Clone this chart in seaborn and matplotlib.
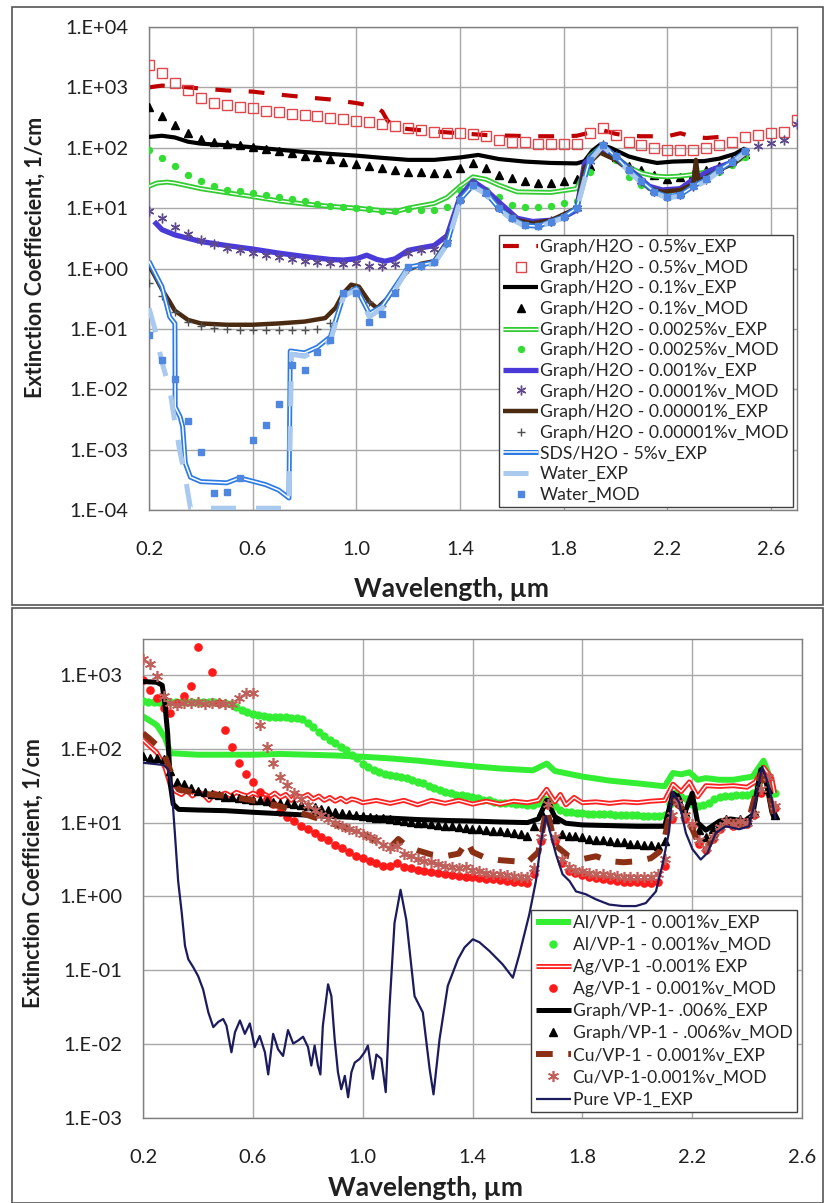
import numpy as np
import matplotlib
matplotlib.use("Agg")
import matplotlib.pyplot as plt
import matplotlib.patheffects as pe
from matplotlib.patches import Rectangle
from matplotlib.ticker import FixedLocator, FuncFormatter, NullLocator
import seaborn as sns

# ---------------------------------------------------------------- upper panel: graphite / water suspensions
wl_05 = np.arange(0.20, 2.701, 0.05)     # model grid 0.20 .. 2.70
wl_25 = np.arange(0.20, 2.501, 0.05)     # model grid 0.20 .. 2.50

g05_exp_x = [0.20, 0.25, 0.30, 0.40, 0.50, 0.60, 0.70, 0.80, 0.90, 1.00, 1.05, 1.08, 1.10, 1.12, 1.15, 1.20,
             1.30, 1.40, 1.50, 1.60, 1.70, 1.80, 1.85, 1.90, 1.95, 2.00, 2.05, 2.10, 2.20, 2.25, 2.30, 2.35,
             2.40, 2.46]
g05_exp_y = [1000, 1070, 1050, 955, 890, 850, 760, 690, 630, 550, 500, 457, 398, 282, 219, 204,
             186, 174, 162, 158, 155, 155, 158, 178, 195, 170, 158, 155, 155, 174, 151, 145,
             151, 158]
g05_mod_y = [2340, 1700, 1175, 890, 676, 550, 513, 479, 447, 407, 389, 363, 347, 331, 309, 295, 275, 263, 245,
             229, 209, 200, 182, 178, 174, 170, 158, 135, 126, 123, 117, 117, 115, 115, 178, 209, 162, 126,
             110, 98, 91, 91, 93, 98, 110, 126, 151, 162, 174, 182, 288]

g01_exp_x = [0.20, 0.25, 0.30, 0.35, 0.40, 0.50, 0.60, 0.70, 0.80, 0.90, 1.00, 1.10, 1.20, 1.30, 1.40, 1.47,
             1.55, 1.65, 1.75, 1.85, 1.88, 1.91, 1.94, 1.98, 2.05, 2.10, 2.16, 2.22, 2.28, 2.34, 2.40, 2.46, 2.50]
g01_exp_y = [151, 158, 148, 126, 117, 110, 102, 93, 85, 79, 74, 68, 63, 63, 69, 76,
             65, 59, 56, 55, 60, 89, 112, 100, 72, 63, 56, 59, 60, 60, 66, 79, 98]
g01_mod_y = [468, 339, 234, 174, 141, 126, 115, 110, 102, 95, 89, 83, 74, 71, 65, 58, 54, 49, 46, 43,
             40, 40, 38, 38, 46, 56, 46, 35, 32, 28, 26, 26, 28, 30, 50, 100, 71, 50, 43, 35,
             30, 33, 37, 42, 50, 63, 79]

g0025_exp_x = [0.20, 0.23, 0.27, 0.30, 0.40, 0.50, 0.60, 0.70, 0.80, 0.90, 1.00, 1.10, 1.15, 1.20, 1.30,
               1.35, 1.40, 1.45, 1.50, 1.55, 1.62, 1.75, 1.85, 1.87, 1.90, 1.94, 2.00, 2.05, 2.10, 2.15,
               2.20, 2.25, 2.30, 2.35, 2.40, 2.45, 2.50]
g0025_exp_y = [23, 26, 27, 26, 21, 18, 15.5, 13.2, 11.7, 10.7, 10, 9.1, 8.7, 10, 12,
               15, 23, 33, 30, 24, 18.6, 18.2, 21, 32, 71, 100, 71, 48, 38, 34,
               33, 34, 36, 40, 47, 56, 71]
g0025_mod_y = [91, 68, 49, 35, 28, 23, 20, 19, 17.8, 16.6, 15.5, 14.1, 12.9, 11.7, 11, 10.5, 10, 9.5, 9.1,
               9.1, 9.5, 9.3, 9.3, 10.5, 20, 28, 20, 15.5, 11.2, 10.5, 10.5, 11, 12, 13.2, 40, 100, 63,
               33, 24, 20, 18.6, 21, 26, 30, 40, 52, 71]

g001_exp_x = [0.22, 0.25, 0.30, 0.40, 0.50, 0.60, 0.70, 0.80, 0.90, 0.95, 1.00, 1.04, 1.08, 1.11, 1.15,
              1.20, 1.25, 1.30, 1.35, 1.40, 1.45, 1.50, 1.55, 1.62, 1.68, 1.75, 1.80, 1.85, 1.88, 1.94,
              2.00, 2.05, 2.13, 2.18, 2.25, 2.30, 2.37, 2.46, 2.50]
g001_exp_y = [6.0, 4.4, 3.6, 2.8, 2.4, 2.1, 1.8, 1.58, 1.41, 1.38, 1.45, 1.66, 1.41, 1.32, 1.45,
              2.0, 2.2, 2.4, 3.5, 15.5, 28, 20, 12.6, 6.8, 6.0, 6.3, 7.1, 9.3, 55, 98,
              71, 46, 23, 20, 21, 30, 43, 60, 87]
g0001_mod_y = [9.1, 6.8, 4.8, 3.7, 3.0, 2.5, 2.2, 2.0, 1.8, 1.66, 1.55, 1.45, 1.35, 1.29, 1.23, 1.17, 1.23,
               1.12, 1.12, 1.2, 1.8, 2.0, 2.1, 3.2, 14, 25, 18, 10.5, 7.1, 5.6, 5.4, 6.2, 7.4, 10, 60,
               110, 72, 44, 28, 19, 15.8, 17, 23, 30, 43, 59, 85, 105, 120, 135, 251]

g00001_exp_x = [0.20, 0.22, 0.25, 0.28, 0.30, 0.35, 0.40, 0.50, 0.60, 0.70, 0.80, 0.88, 0.92, 0.95, 0.98,
                1.01, 1.05, 1.08, 1.12, 1.15, 1.20, 1.25, 1.30, 1.35, 1.40, 1.45, 1.50, 1.55, 1.62, 1.68,
                1.75, 1.80, 1.85, 1.88, 1.94, 2.00, 2.05, 2.13, 2.18, 2.25, 2.30, 2.31, 2.32, 2.40, 2.46, 2.50]
g00001_exp_y = [1.12, 0.79, 0.45, 0.28, 0.20, 0.141, 0.123, 0.117, 0.117, 0.123, 0.132, 0.151, 0.224, 0.39,
                0.54, 0.50, 0.28, 0.22, 0.32, 0.50, 0.95, 1.2, 1.32, 2.8, 14, 24, 18, 10, 6.3, 5.6,
                6.3, 7.9, 10, 47, 83, 63, 43, 21, 18.6, 20, 25, 63, 28, 43, 56, 79]
g00001_mod_y = [0.58, 0.35, 0.19, 0.132, 0.112, 0.105, 0.100, 0.095, 0.095, 0.095, 0.095, 0.095, 0.095,
                0.100, 0.126, 0.35, 0.50, 0.28, 0.24, 0.45, 1.0, 1.12, 1.26, 2.6, 13.8, 24, 17.8, 10,
                6.8, 5.2, 5.0, 6.0, 7.2, 10, 63, 112, 72, 43, 28, 18.6, 15.5, 16.6, 23, 30, 43, 59, 87]

sds_exp_x = [0.20, 0.22, 0.25, 0.28, 0.30, 0.301, 0.32, 0.33, 0.34, 0.36, 0.40, 0.50, 0.55, 0.60, 0.65,
             0.70, 0.74, 0.745, 0.80, 0.85, 0.90, 0.95, 1.00, 1.05, 1.10, 1.15, 1.20, 1.30, 1.35, 1.40,
             1.45, 1.50, 1.55, 1.60, 1.65, 1.70, 1.75, 1.80, 1.85, 1.90, 1.95, 2.00, 2.05, 2.10, 2.15,
             2.20, 2.25, 2.30, 2.35, 2.40, 2.45, 2.50]
sds_exp_y = [1.32, 0.89, 0.50, 0.158, 0.123, 0.0051, 0.0035, 0.0024, 0.0006, 0.00035, 0.000295, 0.000282,
             0.00034, 0.0003, 0.000263, 0.000214, 0.000158, 0.043, 0.040, 0.050, 0.074, 0.35, 0.47, 0.178,
             0.24, 0.50, 1.05, 1.26, 2.6, 13.8, 24, 17.8, 10, 6.8, 5.2, 5.0, 6.0, 7.2, 10, 63, 112, 72,
             43, 28, 18.6, 15.5, 16.6, 23, 30, 43, 59, 87]

water_exp_x = [0.20, 0.22, 0.25, 0.28, 0.30, 0.32, 0.34, 0.36, 0.50, 0.60, 0.74, 0.75, 0.80, 0.85, 0.90,
               0.95, 1.00, 1.05, 1.10, 1.15, 1.20, 1.30, 1.35, 1.40, 1.45, 1.50, 1.55, 1.60, 1.65, 1.70,
               1.75, 1.80, 1.85, 1.90, 1.95, 2.00, 2.05, 2.10, 2.15, 2.20, 2.25, 2.30, 2.35, 2.40, 2.45, 2.50]
water_exp_y = [0.22, 0.11, 0.028, 0.010, 0.0028, 0.00089, 0.00035, 0.000107, 0.000107, 0.000107, 0.000107,
               0.038, 0.035, 0.045, 0.063, 0.35, 0.44, 0.158, 0.22, 0.45, 1.0, 1.2, 2.5, 13.2, 23, 17,
               9.5, 6.5, 5.0, 4.8, 5.8, 6.9, 9.5, 60, 107, 69, 41, 26, 17.8, 14.8, 15.8, 22, 28, 41, 56, 83]
water_mod_y = [0.079, 0.031, 0.015, 0.0030, 0.00093, 0.00019, 0.0002, 0.00034, 0.00145, 0.0026, 0.0058,
               0.025, 0.021, 0.042, 0.066, 0.39, 0.39, 0.132, 0.178, 0.40, 1.07, 1.12, 1.26, 2.6, 13.8,
               24, 17.8, 10, 6.8, 5.2, 5.0, 6.0, 7.2, 10, 63, 112, 72, 43, 28, 18.6, 15.5, 16.6, 23, 30,
               43, 59, 87]

# ---------------------------------------------------------------- lower panel: VP-1 based nanofluids
wl_02 = np.arange(0.20, 2.501, 0.02)     # dense model grids
wl_025 = np.arange(0.20, 2.501, 0.025)

al_exp_x = [0.20, 0.25, 0.28, 0.30, 0.40, 0.50, 0.60, 0.70, 0.80, 0.90, 1.00, 1.10, 1.20, 1.30, 1.40, 1.50,
            1.62, 1.67, 1.70, 1.80, 1.90, 2.00, 2.10, 2.13, 2.16, 2.19, 2.22, 2.25, 2.30, 2.35, 2.42, 2.46,
            2.49, 2.50]
al_exp_y = [275, 209, 141, 87, 83, 83, 83, 85, 83, 81, 78, 74, 69, 63, 58, 54,
            51, 63, 50, 42, 37, 34, 31, 47, 45, 48, 38, 40, 38, 38, 42, 69, 35, 22]
al_mod_y = [447, 436, 436, 427, 436, 436, 427, 436, 436, 427, 427, 436, 427, 427, 417, 417,
            398, 363, 339, 316, 295, 282, 275, 269, 269, 269, 269, 263, 263, 251,
            224, 195, 170, 148, 132, 120, 107, 95, 83, 74,
            63, 56, 51, 48, 46, 44, 43, 42, 40, 38,
            36, 34, 31, 29, 27.5, 26.3, 25.1, 24, 23.4, 22.9,
            21.9, 21.4, 20.4, 20, 19.1, 18.6, 18.2, 18.2, 17.8, 17.8,
            17.4, 17.4, 18.6, 20.9, 20, 16.6, 14.8, 14.1, 13.8, 13.5,
            13.5, 13.2, 13.2, 13.2, 12.9, 12.9, 12.6, 12.6, 12.6, 12.6,
            12.6, 12.3, 12.3, 12.3, 12.3, 12.6, 17.8, 25.1, 22.4, 20.9,
            17.8, 16.6, 17.4, 18.6, 20.9, 22.4, 22.9, 22.9, 23.4, 24,
            24, 25.1, 31.6, 52.5, 39.8, 25.1]

ag_exp_x = [0.20, 0.22, 0.25, 0.28, 0.30,
            0.32, 0.34, 0.36, 0.38, 0.40, 0.42, 0.44, 0.46, 0.48, 0.50,
            0.52, 0.54, 0.56, 0.58, 0.60, 0.62, 0.64, 0.66, 0.68, 0.70,
            0.72, 0.74, 0.76, 0.78, 0.80, 0.82, 0.84, 0.86, 0.88, 0.90,
            0.92, 0.94, 0.96, 0.98, 1.00,
            1.05, 1.10, 1.15, 1.20, 1.25, 1.30, 1.35, 1.40, 1.45, 1.50, 1.55, 1.60,
            1.64, 1.67, 1.70, 1.72, 1.74, 1.77, 1.80,
            1.85, 1.90, 1.95, 2.00, 2.05, 2.10,
            2.13, 2.16, 2.19, 2.22, 2.25,
            2.30, 2.35, 2.40, 2.43, 2.46, 2.49, 2.50]
ag_exp_y = [132, 112, 89, 56, 32,
            26.3, 24, 27.5, 22.9, 26.3, 24, 20, 25.1, 23.4, 25.1,
            22.9, 25.7, 24, 22.9, 25.1, 23.4, 24.5, 22.4, 25.1, 21.9,
            24, 20, 23.4, 21.9, 24, 20.9, 22.9, 20, 21.9, 19.5,
            21.4, 19.1, 20.9, 20, 18.6,
            20, 18.2, 20, 17.4, 20, 18.2, 20, 17.8, 19.5, 17.8, 19.5, 18.6,
            20, 28.2, 19.1, 24, 17.4, 21.9, 18.6,
            19.1, 18.2, 19.1, 18.6, 19.5, 20,
            33.1, 26.3, 35.5, 22.4, 31.6,
            30.9, 31.6, 30.2, 35.5, 56.2, 39.8, 25.1]
ag_mod_y = [851, 631, 479, 355, 302, 417, 525, 708, 2400, 3981, 1096, 417,
            182, 107, 65, 45, 35, 26, 21, 17.8, 14.1, 12, 10.5, 9.1, 8.1, 7.2, 6.3, 5.8, 5.0, 4.6, 4.0, 3.5,
            3.3, 3.0, 2.8, 2.6, 2.6, 2.8, 2.5, 2.4, 2.3, 2.24, 2.14, 2.09, 2.0, 1.95, 1.9, 1.86, 1.82, 1.78,
            1.74, 1.70,
            1.66, 1.62, 1.58, 1.55, 1.51, 2.0, 5.6, 17.4, 5.6, 2.8, 2.24, 2.09, 1.95, 1.86, 1.78, 1.70,
            1.66, 1.62, 1.58, 1.55,
            1.55, 1.51, 1.51, 1.58, 2.6, 11.2, 17.8, 11.2, 8.9, 5.2, 4.2, 6.0, 8.3, 10, 9.1, 10, 9.5,
            12.6, 25, 40,
            15.8]

gr_exp_x = [0.20, 0.25, 0.27, 0.28, 0.29, 0.30, 0.31, 0.33, 0.40, 0.50, 0.60, 0.70, 0.80, 0.90, 1.00,
            1.10, 1.20, 1.30, 1.40, 1.50, 1.60, 1.64, 1.67, 1.70, 1.74, 1.80, 1.90, 2.00, 2.10, 2.13,
            2.15, 2.17, 2.20, 2.22, 2.25, 2.30, 2.34, 2.39, 2.42, 2.45, 2.47, 2.49, 2.50]
gr_exp_y = [813, 794, 724, 398, 158, 32, 17.8, 15.1, 14.8, 14.5, 13.8, 13.2, 12.6, 12, 11.7,
            11.5, 11, 10.7, 10.5, 10.2, 10, 11.2, 20, 12, 9.8, 9.3, 9.1, 8.9, 8.9, 25,
            22, 12.6, 25, 10, 7.9, 10.5, 11.2, 10.5, 12.6, 52, 35, 14, 11.2]
gr_mod_y = [79, 76, 74, 72, 50, 36, 33, 29.5, 26.9, 25.7, 24.5, 23.4,
            22.4, 21.9, 21.4, 20.9, 20.4, 20, 19.5, 19.1, 18.6, 18.2, 17.8, 17.4, 16.6, 16.2, 15.5, 14.8,
            14.1, 13.5, 12.9, 12.6,
            12.3, 12, 11.7, 11.5, 11.2, 11, 10.5, 10.2, 10, 9.8, 9.5, 9.3, 9.1, 8.9, 8.7, 8.5, 8.3, 8.1,
            7.9, 7.8,
            7.6, 7.4, 7.2, 6.9, 6.6, 8.9, 14.1, 19.1, 11.2, 6.9, 6.6, 6.5, 6.3, 6.0, 5.9, 5.8, 5.6, 5.5,
            5.4, 5.2,
            5.1, 5.0, 4.9, 4.8, 5.6, 20, 22.4, 14.1, 20, 7.9, 6.3, 8.3, 10, 11.2, 10.5, 11.2, 11, 14.1,
            44.7, 28.2,
            12.6]

cu_exp_x = [0.20, 0.22, 0.25, 0.28, 0.30, 0.33, 0.40, 0.50, 0.60, 0.70, 0.80, 0.90, 1.00, 1.05, 1.10,
            1.13, 1.16, 1.20, 1.25, 1.30, 1.35, 1.38, 1.40, 1.45, 1.50, 1.55, 1.60, 1.64, 1.67, 1.70,
            1.75, 1.80, 1.85, 1.90, 1.95, 2.00, 2.05, 2.08, 2.10, 2.13, 2.16, 2.19, 2.22, 2.25, 2.30,
            2.35, 2.40, 2.45, 2.48, 2.50]
cu_exp_y = [162, 141, 112, 79, 50, 28, 25, 23, 20, 16.6, 12.6, 9.5, 7.1, 5.6, 4.6,
            6.0, 4.8, 4.2, 3.7, 3.5, 3.8, 5.6, 4.0, 3.3, 3.1, 3.0, 2.9, 4.0, 15.8, 5.0,
            3.5, 3.2, 3.5, 3.0, 2.9, 3.0, 3.3, 4.0, 6.3, 20, 15.8, 10, 5.6, 4.5, 7.9,
            10, 8.9, 45, 25, 11.2]
cu_mod_y = [1660, 1413, 955, 525, 417, 389, 417, 417, 427, 407, 417, 417,
            407, 398, 479, 575, 562, 209, 107, 65, 42, 32, 25, 21, 17.4, 14.8, 12.6, 11.2, 9.8, 8.9,
            8.1, 7.6,
            6.9, 6.3, 5.8, 5.0, 4.6, 4.8, 3.8, 3.5, 3.2, 3.0, 2.9, 2.75, 2.6, 2.5, 2.4, 2.5, 2.3, 2.2,
            2.1, 2.04,
            2.0, 1.95, 1.9, 1.86, 1.82, 2.4, 6.3, 17.8, 6.3, 3.2, 2.5, 2.3, 2.2, 2.1, 2.04, 2.0, 1.95,
            1.9, 1.86, 1.86,
            1.82, 1.82, 1.82, 2.0, 3.2, 12.6, 19.1, 12.6, 9.5, 5.8, 4.6, 6.3, 8.7, 10.5, 9.5, 10.5, 10,
            13.2, 28.2, 41.7,
            16.6]

vp1_x = [0.200, 0.274, 0.292, 0.304, 0.316, 0.328, 0.341, 0.353, 0.365, 0.383,
         0.401, 0.419, 0.438, 0.456, 0.474, 0.492, 0.504, 0.522, 0.535, 0.553,
         0.571, 0.589, 0.607, 0.625, 0.644, 0.656, 0.674, 0.692, 0.710, 0.728,
         0.747, 0.765, 0.783, 0.801, 0.813, 0.825, 0.837, 0.846, 0.855, 0.874,
         0.886, 0.898, 0.910, 0.922, 0.935, 0.947, 0.959, 0.971, 0.989, 1.007,
         1.019, 1.037, 1.050, 1.068, 1.084, 1.098, 1.116, 1.138, 1.159, 1.189,
         1.219, 1.244, 1.258, 1.280, 1.310, 1.347, 1.371, 1.401, 1.425, 1.462,
         1.510, 1.547, 1.571, 1.607, 1.631, 1.650, 1.667, 1.704, 1.728, 1.753,
         1.777, 1.813, 1.850, 1.898, 1.946, 1.995, 2.031, 2.068, 2.092, 2.116,
         2.128, 2.153, 2.177, 2.201, 2.231, 2.256, 2.286, 2.322, 2.371, 2.407,
         2.431, 2.455, 2.480, 2.504]
vp1_y = [64.6, 60.3, 52.5, 30.9, 7.24, 1.62, 0.603, 0.214, 0.141, 0.110,
         0.0832, 0.0550, 0.0269, 0.0170, 0.0200, 0.0219, 0.0178, 0.00776, 0.0145, 0.0209,
         0.0138, 0.0191, 0.00912, 0.0129, 0.00776, 0.00389, 0.0138, 0.00851, 0.00692, 0.0155,
         0.0102, 0.0112, 0.0126, 0.00912, 0.00513, 0.00955, 0.00513, 0.00389, 0.0178, 0.0646,
         0.0447, 0.0117, 0.00417, 0.00245, 0.00372, 0.00191, 0.00417, 0.00562, 0.00631, 0.00776,
         0.00955, 0.00339, 0.00724, 0.00631, 0.00224, 0.0331, 0.437, 1.23, 0.479, 0.0447,
         0.0269, 0.00457, 0.00209, 0.0117, 0.0617, 0.141, 0.204, 0.263, 0.240, 0.182,
         0.120, 0.0794, 0.166, 0.575, 1.62, 5.62, 12.3, 3.72, 2.0, 1.62,
         1.17, 1.07, 0.912, 0.776, 0.741, 0.741, 0.813, 1.17, 2.69, 7.59,
         26.3, 18.6, 7.24, 4.37, 3.16, 3.89, 7.24, 8.91, 8.13, 8.91,
         20.4, 57.5, 30.9, 11.0]

x_ticks = [0.2, 0.6, 1.0, 1.4, 1.8, 2.2, 2.6]

# ---------------------------------------------------------------- styling
sns.set_style("white")
plt.rcParams["font.family"] = ["Lato", "DejaVu Sans"]
plt.rcParams["axes.unicode_minus"] = False

W, H = 824, 1203
fig = plt.figure(figsize=(W / 100, H / 100), dpi=100)


def fx(px):
    return px / W


def fy(py):
    return 1 - py / H


ax_top = fig.add_axes([fx(149), fy(510), fx(797) - fx(149), fy(27) - fy(510)])
ax_bot = fig.add_axes([fx(143), fy(1118), fx(802) - fx(143), fy(639) - fy(1118)])


def trace(ax, x, y, label, color, lw, ls="-", core=None, z=2):
    kw = dict(color=color, linewidth=lw, linestyle=ls, zorder=z, solid_capstyle="butt",
              dash_capstyle="butt")
    if core:
        kw.update(color="white", linewidth=core,
                  path_effects=[pe.Stroke(linewidth=lw, foreground=color), pe.Normal()])
    sns.lineplot(x=np.asarray(x, float), y=np.asarray(y, float), ax=ax, label=label,
                 estimator=None, sort=False, errorbar=None, legend=False, **kw)


def marks(ax, x, y, label, marker, ms, color, face=None, mew=1.0, z=3):
    sns.lineplot(x=np.asarray(x, float), y=np.asarray(y, float), ax=ax, label=label,
                 estimator=None, sort=False, errorbar=None, legend=False,
                 linestyle="", marker=marker, markersize=ms, color=color,
                 markerfacecolor=color if face is None else face, markeredgecolor=color,
                 markeredgewidth=mew, zorder=z)


star = (6, 2, 0)

for ax in (ax_top, ax_bot):
    ax.set_yscale("log")

# upper panel series
trace(ax_top, g05_exp_x, g05_exp_y, "Graph/H2O - 0.5%v_EXP", "#C00000", 3.0, ls=(0, (3.8, 4.2)), z=2)
marks(ax_top, wl_05, g05_mod_y, "Graph/H2O - 0.5%v_MOD", "s", 7, "#E0474C", face="none", mew=1.0, z=3)
trace(ax_top, g01_exp_x, g01_exp_y, "Graph/H2O - 0.1%v_EXP", "black", 3.0, z=4)
marks(ax_top, wl_25, g01_mod_y, "Graph/H2O - 0.1%v_MOD", "^", 6, "black", z=5)
trace(ax_top, g0025_exp_x, g0025_exp_y, "Graph/H2O - 0.0025%v_EXP", "#33CC33", 3.6, core=1.0, z=6)
marks(ax_top, wl_25, g0025_mod_y, "Graph/H2O - 0.0025%v_MOD", "o", 4.3, "#33DD33", z=7)
trace(ax_top, g001_exp_x, g001_exp_y, "Graph/H2O - 0.001%v_EXP", "#4A3AD8", 3.8, z=8)
marks(ax_top, wl_05, g0001_mod_y, "Graph/H2O - 0.0001%v_MOD", star, 7, "#5E4A8C", mew=1.0, z=9)
trace(ax_top, g00001_exp_x, g00001_exp_y, "Graph/H2O - 0.00001%_EXP", "#4A2A10", 3.2, z=10)
marks(ax_top, wl_25, g00001_mod_y, "Graph/H2O - 0.00001%v_MOD", "+", 6, "#505050", mew=1.0, z=11)
trace(ax_top, sds_exp_x, sds_exp_y, "SDS/H2O - 5%v_EXP", "#2C7BE5", 3.6, core=1.1, z=12)
trace(ax_top, water_exp_x, water_exp_y, "Water_EXP", "#A9C9EE", 3.6, ls=(0, (5, 4)), z=13)
marks(ax_top, wl_25, water_mod_y, "Water_MOD", "s", 5, "#4F86E0", z=14)

# lower panel series
trace(ax_bot, al_exp_x, al_exp_y, "Al/VP-1 - 0.001%v_EXP", "#33EE33", 4.3, z=2)
marks(ax_bot, wl_02, al_mod_y, "Al/VP-1 - 0.001%v_MOD", "o", 5, "#33EE33", z=3)
trace(ax_bot, ag_exp_x, ag_exp_y, "Ag/VP-1 -0.001% EXP", "#FF2020", 3.6, core=1.0, z=4)
marks(ax_bot, wl_025, ag_mod_y, "Ag/VP-1 - 0.001%v_MOD", "o", 5.2, "#FF1A1A", z=5)
trace(ax_bot, gr_exp_x, gr_exp_y, "Graph/VP-1- .006%_EXP", "black", 3.6, z=6)
marks(ax_bot, wl_025, gr_mod_y, "Graph/VP-1 - .006%v_MOD", "^", 5.5, "black", z=7)
trace(ax_bot, cu_exp_x, cu_exp_y, "Cu/VP-1 - 0.001%v_EXP", "#8B3015", 4.3, ls=(0, (2.8, 2.6)), z=8)
marks(ax_bot, wl_025, cu_mod_y, "Cu/VP-1-0.001%v_MOD", star, 8, "#C0605A", mew=1.2, z=9)
trace(ax_bot, vp1_x, vp1_y, "Pure VP-1_EXP", "#1B1B5E", 1.6, z=10)

# ---------------------------------------------------------------- axes decoration
decade_fmt = FuncFormatter(lambda v, pos: f"1.E{int(round(np.log10(v))):+03d}")

ax_top.set_xlim(0.2, 2.7)
ax_top.set_ylim(1e-4, 1e4)
ax_bot.set_xlim(0.2, 2.6)
ax_bot.set_ylim(1e-3, 10 ** 3.486)

for ax, lo, hi in ((ax_top, -4, 4), (ax_bot, -3, 3)):
    ax.yaxis.set_major_locator(FixedLocator([10.0 ** k for k in range(lo, hi + 1)]))
    ax.yaxis.set_minor_locator(NullLocator())
    ax.yaxis.set_major_formatter(decade_fmt)
    ax.xaxis.set_major_locator(FixedLocator(x_ticks))
    ax.xaxis.set_major_formatter(FuncFormatter(lambda v, pos: f"{v:.1f}"))
    ax.set_xlabel("")
    ax.set_ylabel("")
    ax.grid(True, which="major", color="#A8A8A8", linewidth=1.0)
    ax.set_axisbelow(True)
    for s in ax.spines.values():
        s.set_color("#7F7F7F")
        s.set_linewidth(1.0)
    ax.tick_params(axis="both", which="major", direction="out", length=5, width=1,
                   color="#7F7F7F", labelsize=14.5, labelcolor="#202020")
    ax.tick_params(axis="y", pad=10)
    ax.tick_params(axis="x", pad=17)
    ax.set_facecolor("white")


def legend_for(ax, order, anchor, spacing):
    handles, labels = ax.get_legend_handles_labels()
    lookup = dict(zip(labels, handles))
    leg = ax.legend([lookup[k] for k in order], order, loc="lower right", bbox_to_anchor=anchor,
                    fontsize=12.6, frameon=True, fancybox=False, framealpha=1, edgecolor="#404040",
                    handlelength=2.0, handletextpad=0.1, borderpad=0.25, labelspacing=spacing,
                    borderaxespad=0, numpoints=1)
    leg.get_frame().set_linewidth(1.0)
    leg.set_zorder(30)
    return leg


legend_for(ax_top, ["Graph/H2O - 0.5%v_EXP", "Graph/H2O - 0.5%v_MOD", "Graph/H2O - 0.1%v_EXP",
                    "Graph/H2O - 0.1%v_MOD", "Graph/H2O - 0.0025%v_EXP", "Graph/H2O - 0.0025%v_MOD",
                    "Graph/H2O - 0.001%v_EXP", "Graph/H2O - 0.0001%v_MOD", "Graph/H2O - 0.00001%_EXP",
                    "Graph/H2O - 0.00001%v_MOD", "SDS/H2O - 5%v_EXP", "Water_EXP", "Water_MOD"],
           (0.994, 0.006), 0.265)
legend_for(ax_bot, ["Al/VP-1 - 0.001%v_EXP", "Al/VP-1 - 0.001%v_MOD", "Ag/VP-1 -0.001% EXP",
                    "Ag/VP-1 - 0.001%v_MOD", "Graph/VP-1- .006%_EXP", "Graph/VP-1 - .006%v_MOD",
                    "Cu/VP-1 - 0.001%v_EXP", "Cu/VP-1-0.001%v_MOD", "Pure VP-1_EXP"],
           (0.992, 0.0125), 0.35)

# axis titles
fig.text(fx(35), fy(257), "Extinction Coeffiecient, 1/cm", rotation=90, ha="center", va="center",
         fontsize=15.5, fontweight="bold", color="#202020")
fig.text(fx(452), fy(589), "Wavelength, µm", ha="center", va="center",
         fontsize=19, fontweight="bold", color="#202020")
fig.text(fx(33), fy(873), "Extinction Coefficient, 1/cm", rotation=90, ha="center", va="center",
         fontsize=15.5, fontweight="bold", color="#202020")
fig.text(fx(425), fy(1188), "Wavelength, µm", ha="center", va="center",
         fontsize=19, fontweight="bold", color="#202020")

# chart-area frames
for top_px, bot_px in ((7, 605), (608, 1203)):
    fig.add_artist(Rectangle((fx(12), fy(bot_px)), fx(822.5) - fx(12), fy(top_px) - fy(bot_px),
                             transform=fig.transFigure, fill=False, edgecolor="#555555",
                             linewidth=1.2, zorder=0))

fig.savefig("out.png", dpi=100, facecolor="white")
